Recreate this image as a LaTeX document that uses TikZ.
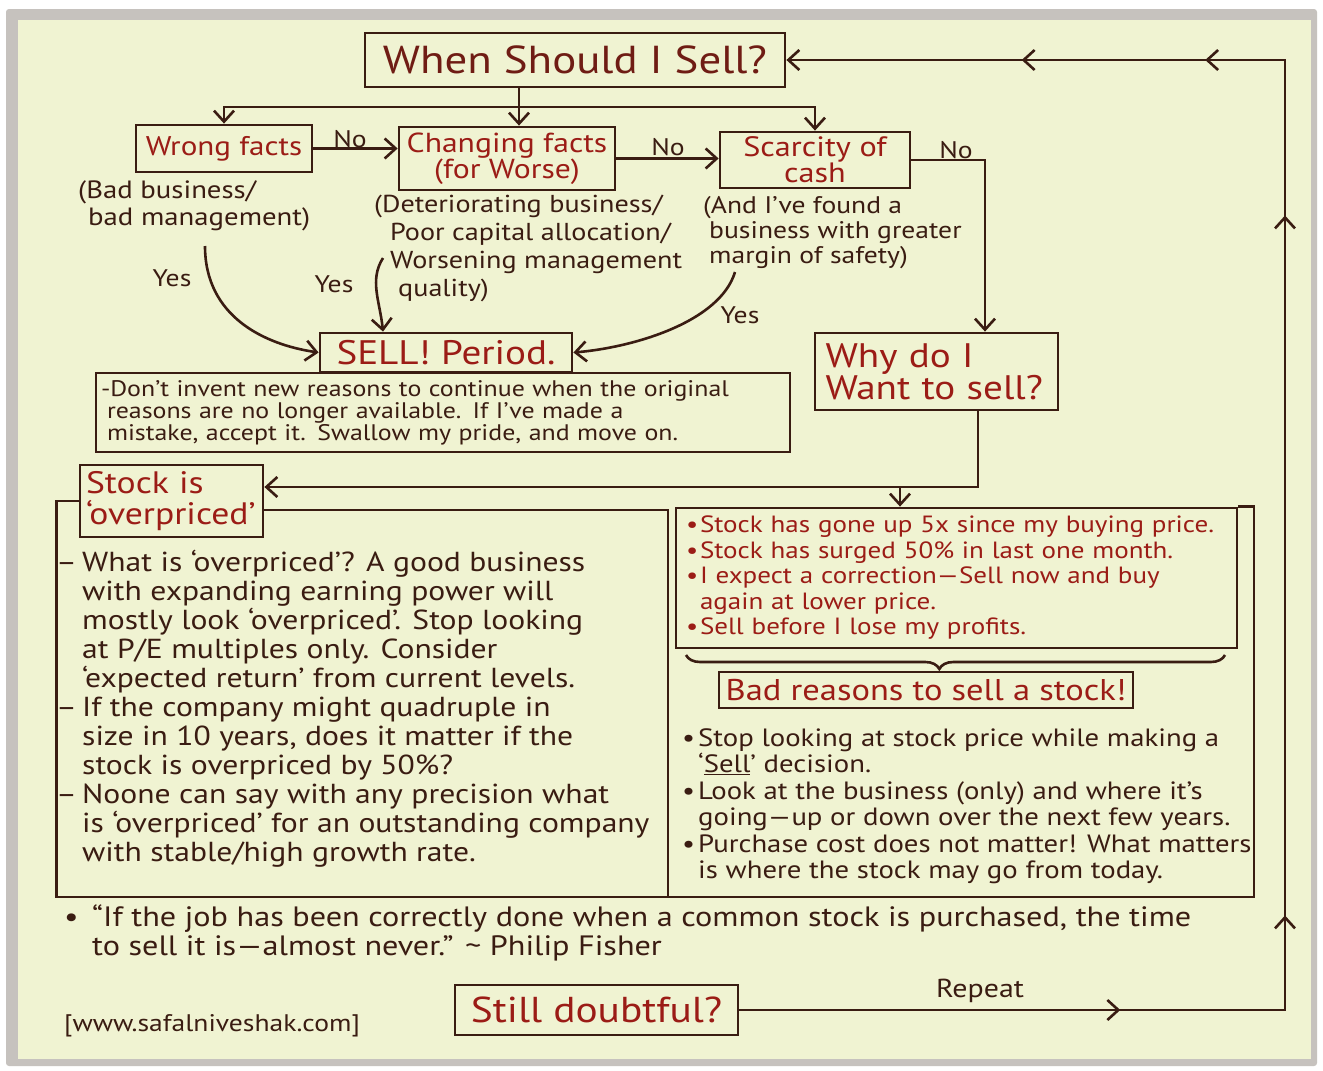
\documentclass[tikz,border=0pt]{standalone}
\usepackage{fontspec}
\setmainfont{PT Sans}[FakeStretch=1.15]
\usetikzlibrary{arrows.meta,decorations.markings,decorations.pathreplacing}
\definecolor{paper}{RGB}{240,243,210}
\definecolor{ink}{RGB}{58,28,18}
\definecolor{redink}{RGB}{155,28,22}
\definecolor{rim}{RGB}{198,194,190}
\begin{document}
\begin{tikzpicture}[x=1pt,y=-1pt]

    \tikzset{
      box/.style={draw=ink, line width=2.8pt, inner sep=0pt, text=redink, align=center},
      note/.style={text=ink, align=left, inner sep=0pt},
      link/.style={draw=ink, line width=2.6pt, -{Straight Barb[length=11pt,width=20pt]}},
      wire/.style={draw=ink, line width=2.6pt},
      tag/.style={text=ink, inner sep=0pt, font=\fontsize{24}{26}\selectfont},
      loopmarks/.style={postaction=decorate, decoration={markings,
        mark=at position 0.191 with {\arrow{Straight Barb[length=11pt,width=20pt]}},
        mark=at position 0.321 with {\arrow{Straight Barb[length=11pt,width=20pt]}},
        mark=at position 0.672 with {\arrow{Straight Barb[length=11pt,width=20pt]}},
        mark=at position 0.790 with {\arrow{Straight Barb[length=11pt,width=20pt]}},
        mark=at position 0.882 with {\arrow{Straight Barb[length=11pt,width=20pt]}}}},
    }
    \useasboundingbox (0,0) rectangle (1323,1071);
    \fill[white] (0,0) rectangle (1323,1071);
    \fill[rim, rounded corners=3pt] (6,9) rectangle (1317,1066);
    \fill[paper] (18,20) rectangle (1311,1059);

    % question boxes
    \node[box, minimum width=420pt, minimum height=54pt, text=redink!55!ink, font=\fontsize{39}{42}\selectfont] (title) at (575,60) {When Should I Sell?};
    \node[box, minimum width=176pt, minimum height=47pt, font=\fontsize{27}{28}\selectfont] (wrong) at (224,148.5) {Wrong facts};
    \node[box, minimum width=216pt, minimum height=63pt, font=\fontsize{27.5}{25}\selectfont] (changing) at (507,158.5) {Changing facts\\(for Worse)};
    \node[box, minimum width=190pt, minimum height=56pt, font=\fontsize{28}{24}\selectfont] (scarcity) at (815,160) {Scarcity of\\cash};
    \node[box, align=left, text width=222pt, inner xsep=10.5pt, minimum height=77pt, font=\fontsize{34}{32}\selectfont] (why) at (936.5,371.5) {Why do I\\Want to sell?};
    \node[box, minimum width=252pt, minimum height=39pt, font=\fontsize{34}{34}\selectfont] (sell) at (446,352.5) {SELL! Period.};
    \node[box, text=ink, align=left, text width=684pt, inner xsep=5pt, minimum height=79pt, font=\fontsize{22.5}{22}\selectfont] (lesson) at (443,412.5)
      {-Don't invent new reasons to continue when the original\\
       \hspace*{6pt}reasons are no longer available. If I've made a\\
       \hspace*{6pt}mistake, accept it. Swallow my pride, and move on.};
    \node[box, align=left, text width=171pt, inner xsep=6pt, minimum height=72pt, font=\fontsize{31}{31}\selectfont] (stock) at (171.5,501) {Stock is\\`overpriced'};
    \node[box, align=left, text width=541pt, inner xsep=10pt, minimum height=140pt, font=\fontsize{23.5}{25.5}\selectfont] (redbox) at (956.5,578)
      {\makebox[14pt][l]{\textbullet}Stock has gone up 5x since my buying price.\\
       \makebox[14pt][l]{\textbullet}Stock has surged 50\% in last one month.\\
       \makebox[14pt][l]{\textbullet}I expect a correction---Sell now and buy\\
       \hspace*{14pt}again at lower price.\\
       \makebox[14pt][l]{\textbullet}Sell before I lose my profits.};
    \node[box, minimum width=414pt, minimum height=36pt, font=\fontsize{30}{30}\selectfont] (bad) at (926,690) {Bad reasons to sell a stock!};
    \node[box, minimum width=283pt, minimum height=50pt, font=\fontsize{36}{38}\selectfont] (still) at (596.5,1010) {Still doubtful?};

    % notes under the questions
    \node[note, anchor=north west, font=\fontsize{25}{27}\selectfont] (badnote) at (78,180) {(Bad business/\\\hspace*{10pt}bad management)};
    \node[note, anchor=north west, font=\fontsize{24.5}{28}\selectfont] (changenote) at (374,195) {(Deteriorating business/\\\hspace*{16pt}Poor capital allocation/\\\hspace*{16pt}Worsening management\\\hspace*{24pt}quality)};
    \node[note, anchor=north west, font=\fontsize{24}{25}\selectfont] (cashnote) at (703,196) {(And I've found a\\\hspace*{6pt}business with greater\\\hspace*{6pt}margin of safety)};

    \node[note, anchor=north west, font=\fontsize{27.5}{29}\selectfont] (overtext) at (56,550)
      {\makebox[26pt][l]{--}What is `overpriced'? A good business\\
       \hspace*{26pt}with expanding earning power will\\
       \hspace*{26pt}mostly look `overpriced'. Stop looking\\
       \hspace*{26pt}at P/E multiples only. Consider\\
       \hspace*{26pt}`expected return' from current levels.\\
       \makebox[26pt][l]{--}If the company might quadruple in\\
       \hspace*{26pt}size in 10 years, does it matter if the\\
       \hspace*{26pt}stock is overpriced by 50\%?\\
       \makebox[26pt][l]{--}Noone can say with any precision what\\
       \hspace*{26pt}is `overpriced' for an outstanding company\\
       \hspace*{26pt}with stable/high growth rate.};
    \node[note, anchor=north west, font=\fontsize{25}{26.5}\selectfont] (goodtext) at (682,728)
      {\makebox[16pt][l]{\textbullet}Stop looking at stock price while making a\\
       \hspace*{16pt}`\underline{Sell}' decision.\\
       \makebox[16pt][l]{\textbullet}Look at the business (only) and where it's\\
       \hspace*{16pt}going---up or down over the next few years.\\
       \makebox[16pt][l]{\textbullet}Purchase cost does not matter! What matters\\
       \hspace*{16pt}is where the stock may go from today.};
    \node[note, anchor=north west, font=\fontsize{28}{29}\selectfont] (quote) at (64,905)
      {\makebox[28pt][l]{\textbullet}``If the job has been correctly done when a common stock is purchased, the time\\
       \hspace*{28pt}to sell it is---almost never.'' \textasciitilde{} Philip Fisher};
    \node[note, font=\fontsize{24}{26}\selectfont] (site) at (212,1026) {[www.safalniveshak.com]};

    % yes / no labels
    \node[tag] (no1) at (350,139) {No};
    \node[tag] (no2) at (668,147) {No};
    \node[tag] (no3) at (956,150) {No};
    \node[tag] (yes1) at (172,278) {Yes};
    \node[tag] (yes2) at (334,284) {Yes};
    \node[tag] (yes3) at (740,315) {Yes};
    \node[tag, font=\fontsize{26}{28}\selectfont] (repeat) at (980,991) {Repeat};

    % flow
    \coordinate (fork) at (519,107);
    \coordinate (yes1a) at (205,246);
    \coordinate (yes2a) at (383,258);
    \coordinate (yes3a) at (735,272);
    \coordinate (split) at (978,487);
    \coordinate (drop) at (900,487);
    \coordinate (loop) at (1285,1010);

    \draw[wire] (title.south -| fork) -- (fork);
    \draw[link] (fork) -| (wrong.north);
    \draw[link] (fork) -| (scarcity.north);
    \draw[link] (fork) -- (fork |- changing.north);
    \draw[link] (wrong.east) -- (wrong.east -| changing.west);
    \draw[link] (changing.east) -- (changing.east -| scarcity.west);
    \draw[link] (scarcity.east) -| ([xshift=48.5pt]why.north);

    \draw[link] (yes1a) .. controls +(0,70) and +(-55,-8) .. (sell.west);
    \draw[link] (yes2a) .. controls +(-14,22) and +(-3,-30) .. (sell.north -| yes2a);
    \draw[link] (yes3a) .. controls +(-15,50) and +(60,-5) .. (sell.east);

    \draw[link] ([xshift=41.5pt]why.south) |- (stock.east |- split);
    \draw[link] (drop) -- (drop |- redbox.north);

    % frame round the two halves
    \draw[wire] (stock.west) -- ++(-22,0) |- (1254,897) |- (redbox.north east);
    \draw[wire] (stock.east) ++(0,9) -| (668,897);
    \draw[wire, decorate, decoration={brace, mirror, amplitude=14pt, aspect=0.47}] (686,655) -- (1225,655);

    \draw[link, loopmarks] (still.east) -- (loop) |- (title.east);

\end{tikzpicture}
\end{document}
